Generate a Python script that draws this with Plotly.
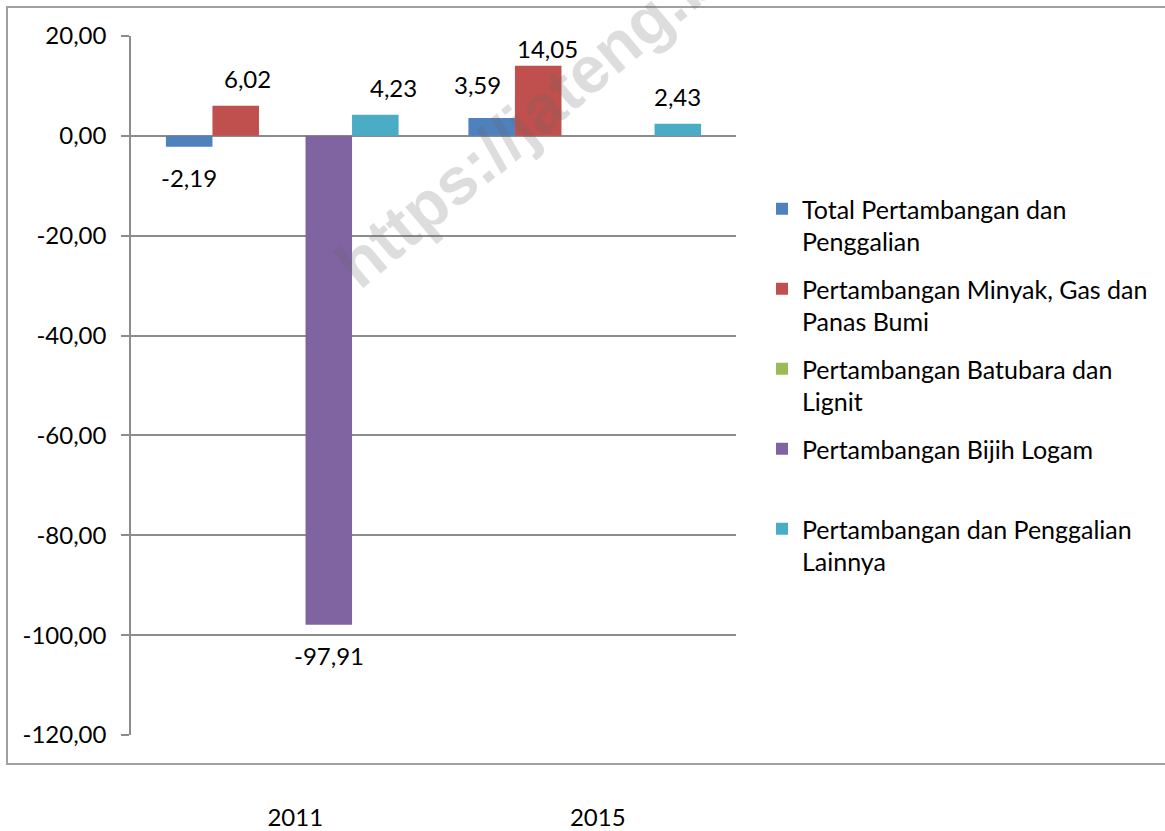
import plotly.graph_objects as go

# ---------------- data ----------------
categories = ["2011", "2015"]
series_names = [
    "Total Pertambangan dan<br>Penggalian",
    "Pertambangan Minyak, Gas dan<br>Panas Bumi",
    "Pertambangan Batubara dan<br>Lignit",
    "Pertambangan Bijih Logam<br> ",
    "Pertambangan dan Penggalian<br>Lainnya",
]
total_pertambangan = [-2.19, 3.59]
minyak_gas = [6.02, 14.05]
batubara = [None, None]
bijih_logam = [-97.91, None]
lainnya = [4.23, 2.43]
y_tickvals = [20, 0, -20, -40, -60, -80, -100, -120]
y_ticktext = ["20,00", "0,00", "-20,00", "-40,00", "-60,00", "-80,00", "-100,00", "-120,00"]
watermark = "https://jateng.bps.go.id"

series_values = [total_pertambangan, minyak_gas, batubara, bijih_logam, lainnya]

# ---------------- style ----------------
colors = ["#4F81BD", "#C0504D", "#9BBB59", "#8064A2", "#4BACC6"]
FONT = "Lato"
FS = 24
W, H = 1165, 831
ML, MR, MT, MB = 131, 429, 36, 96
PW = W - ML - MR
PH = H - MT - MB
GRID = "#8C8C8C"
BARGAP = 0.2308
# manual nudges of some data labels (series index, category index) -> (dx, dy) px
label_nudge = {(1, 0): (12, 0), (4, 0): (18, 0), (1, 1): (9, -10), (0, 1): (-14, 6)}


def px_x(p):
    return (p - ML) / PW


def px_y(p):
    return (H - MB - p) / PH


fig = go.Figure()
for name, vals, col in zip(series_names, series_values, colors):
    fig.add_trace(go.Bar(
        x=categories, y=vals, name=name, marker=dict(color=col, line=dict(width=0)),
        legendgroup=name,
    ))

# data labels
n = len(series_values)
bw = (1 - BARGAP) / n
annotations = []
for si, vals in enumerate(series_values):
    for ci, v in enumerate(vals):
        if v is None:
            continue
        dx, dy = label_nudge.get((si, ci), (0, 0))
        xpos = ci + (si - (n - 1) / 2) * bw
        annotations.append(dict(
            x=xpos, y=v, xref="x", yref="y",
            text=f"{v:.2f}".replace(".", ","), showarrow=False,
            xanchor="center", yanchor="middle",
            xshift=dx, yshift=(27 if v >= 0 else -31) + dy,
            font=dict(family=FONT, size=FS, color="#000000"),
        ))

# watermark
annotations.append(dict(
    x=px_x(623), y=px_y(40), xref="paper", yref="paper", text=watermark,
    showarrow=False, textangle=-40, xanchor="center", yanchor="middle",
    font=dict(family="Liberation Sans", size=66, color="rgba(100,100,100,0.22)", weight="bold"),
))

fig.update_layout(
    width=W, height=H,
    margin=dict(l=ML, r=MR, t=MT, b=MB, autoexpand=False),
    paper_bgcolor="white", plot_bgcolor="white",
    barmode="group", bargap=BARGAP, bargroupgap=0,
    font=dict(family=FONT, size=FS, color="#000000"),
    showlegend=True,
    legend=dict(
        x=px_x(762), y=px_y(186), xanchor="left", yanchor="top",
        traceorder="grouped", tracegroupgap=12, valign="top",
        font=dict(family=FONT, size=25, color="#000000"),
        bgcolor="rgba(0,0,0,0)", borderwidth=0,
    ),
    annotations=annotations,
    shapes=[dict(
        type="rect", xref="paper", yref="paper", layer="below",
        x0=px_x(7), x1=px_x(1180), y0=px_y(764), y1=px_y(7),
        line=dict(color="#A0A0A0", width=2), fillcolor="rgba(0,0,0,0)",
    )],
)

fig.update_xaxes(
    type="category", showline=False, showgrid=False, zeroline=False, ticks="",
    ticklabelstandoff=66, ticklabelshift=13, automargin=False,
    tickfont=dict(family=FONT, size=FS, color="#000000"),
)
fig.update_yaxes(
    range=[-120, 20], tickvals=y_tickvals, ticktext=y_ticktext,
    showline=True, linecolor=GRID, linewidth=1.5,
    ticks="outside", ticklen=8, tickcolor=GRID, tickwidth=1.5,
    showgrid=True, gridcolor=GRID, gridwidth=1.5, zeroline=False,
    ticklabelstandoff=10, automargin=False,
    tickfont=dict(family=FONT, size=FS, color="#000000"),
)

fig.write_html("out.html")
